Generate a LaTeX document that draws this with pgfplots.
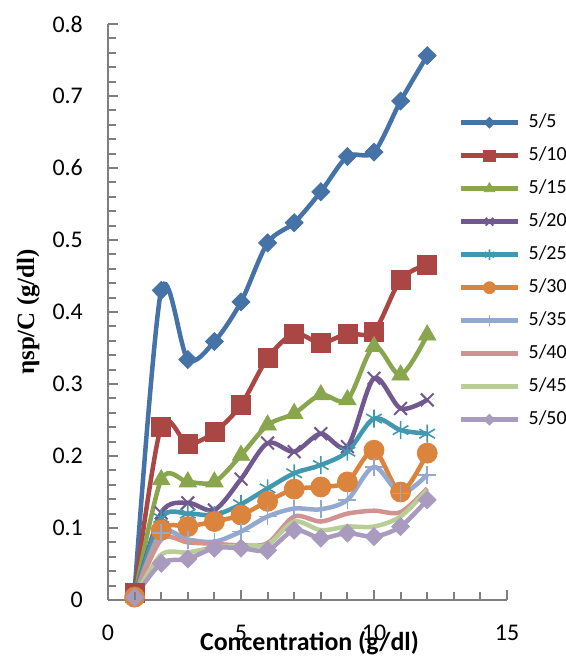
\documentclass[border=0pt]{standalone}
\usepackage{fontspec}
\setmainfont{Carlito}
\newfontfamily\tnr{Liberation Serif}
\usepackage{pgfplots}
\pgfplotsset{compat=1.18}
\definecolor{c1}{HTML}{4572A7}
\definecolor{c2}{HTML}{AA4643}
\definecolor{c3}{HTML}{89A54E}
\definecolor{c4}{HTML}{71588F}
\definecolor{c5}{HTML}{4198AF}
\definecolor{c6}{HTML}{DB843D}
\definecolor{c7}{HTML}{93A9CF}
\definecolor{c8}{HTML}{D19392}
\definecolor{c9}{HTML}{B9CD96}
\definecolor{c10}{HTML}{A99BBD}
\definecolor{axgray}{HTML}{7F7F7F}
\begin{document}
\begin{tikzpicture}
\begin{axis}[
  at={(108bp,67bp)}, anchor=south west,
  scale only axis, width=399bp, height=576bp,
  xmin=0, xmax=15, ymin=0, ymax=0.8,
  axis lines*=left,
  axis line style={draw=axgray, line width=2bp},
  xtick align=inside, ytick align=inside,
  xtick style={draw=axgray, line width=2bp},
  ytick style={draw=axgray, line width=2bp},
  major tick length=10bp, minor tick length=8bp,
  xtick={0,5,10,15}, minor x tick num=4,
  ytick={0,0.1,0.2,0.3,0.4,0.5,0.6,0.7,0.8},
  minor y tick num=4,
  /pgf/number format/assume math mode=true,
  yticklabel style={font=\fontsize{24}{24}\selectfont, inner sep=0pt, xshift=-25bp, /pgf/number format/fixed, /pgf/number format/precision=1},
  xticklabel style={font=\fontsize{24}{24}\selectfont, inner sep=0pt, anchor=north, yshift=-25bp},
  xlabel={Concentration (g/dl)},
  xlabel style={at={(axis description cs:0.505,0)}, anchor=north, inner sep=0pt, yshift=-31bp, font=\fontsize{26}{26}\selectfont\bfseries},
  ylabel={\tnr\bfseries ηsp/C (g/dl)},
  ylabel style={at={(axis description cs:-0.2,0.5)}, anchor=center, rotate=0, inner sep=0pt, font=\fontsize{25}{25}\selectfont},
  legend style={at={(rel axis cs:0.8797,0.8446)}, anchor=north west, draw=none, fill=none,
    font=\fontsize{20}{20}\selectfont, inner sep=0pt, row sep=15bp,
    nodes={inner sep=0pt, text height=14bp, text depth=4bp},
    /tikz/column 1/.style={column sep=9bp}},
  legend cell align=left,
  legend image code/.code={\draw[mark repeat=2,mark phase=2,#1, every mark/.append style={scale=0.6}] plot coordinates {(0bp,0bp) (28bp,0bp) (56bp,0bp)};},
  clip=false,
]
\addplot[c1, smooth, line width=4.5bp, mark=diamond*, mark size=9bp, mark options={solid, line width=0.8bp, xscale=1.33}] coordinates {
(1,0.012) (2,0.43) (3,0.334) (4,0.359) (5,0.414) (6,0.496) (7,0.524) (8,0.567) (9,0.616) (10,0.622) (11,0.693) (12,0.756)};
\addlegendentry{5/5}
\addplot[c2, smooth, line width=4.5bp, mark=square*, mark size=9.5bp, mark options={solid, line width=0.8bp}] coordinates {
(1,0.01) (2,0.241) (3,0.217) (4,0.233) (5,0.271) (6,0.336) (7,0.370) (8,0.357) (9,0.370) (10,0.373) (11,0.445) (12,0.466)};
\addlegendentry{5/10}
\addplot[c3, smooth, line width=4.5bp, mark=triangle*, mark size=10bp, mark options={solid, line width=0.8bp}] coordinates {
(1,0.004) (2,0.167) (3,0.164) (4,0.164) (5,0.201) (6,0.243) (7,0.259) (8,0.285) (9,0.278) (10,0.352) (11,0.3125) (12,0.368)};
\addlegendentry{5/15}
\addplot[c4, smooth, line width=4.5bp, mark=x, mark size=9bp, mark options={solid, line width=2bp}] coordinates {
(1,0.004) (2,0.121) (3,0.135) (4,0.125) (5,0.168) (6,0.218) (7,0.206) (8,0.231) (9,0.213) (10,0.308) (11,0.266) (12,0.278)};
\addlegendentry{5/20}
\addplot[c5, smooth, line width=4.5bp, mark=asterisk, mark size=9bp, mark options={solid, line width=1.6bp}] coordinates {
(1,0.004) (2,0.114) (3,0.12) (4,0.118) (5,0.133) (6,0.155) (7,0.176) (8,0.1875) (9,0.206) (10,0.252) (11,0.236) (12,0.231)};
\addlegendentry{5/25}
\addplot[c6, smooth, line width=4.5bp, mark=*, mark size=10bp, mark options={solid, line width=0.8bp}] coordinates {
(1,0.004) (2,0.097) (3,0.102) (4,0.109) (5,0.118) (6,0.137) (7,0.154) (8,0.157) (9,0.164) (10,0.208) (11,0.150) (12,0.204)};
\addlegendentry{5/30}
\addplot[c7, smooth, line width=4.5bp, mark=+, mark size=9bp, mark options={solid, line width=1.6bp}] coordinates {
(1,0.004) (2,0.093) (3,0.084) (4,0.081) (5,0.095) (6,0.116) (7,0.127) (8,0.126) (9,0.139) (10,0.185) (11,0.148) (12,0.174)};
\addlegendentry{5/35}
\addplot[c8, smooth, line width=4.5bp, no markers] coordinates {
(1,0.004) (2,0.084) (3,0.080) (4,0.078) (5,0.076) (6,0.079) (7,0.116) (8,0.109) (9,0.120) (10,0.124) (11,0.122) (12,0.155)};
\addlegendentry{5/40}
\addplot[c9, smooth, line width=4.5bp, no markers] coordinates {
(1,0.004) (2,0.063) (3,0.066) (4,0.073) (5,0.075) (6,0.077) (7,0.109) (8,0.097) (9,0.102) (10,0.102) (11,0.116) (12,0.153)};
\addlegendentry{5/45}
\addplot[c10, smooth, line width=4.5bp, mark=diamond*, mark size=9bp, mark options={solid, line width=0.8bp, xscale=1.33}] coordinates {
(1,0.004) (2,0.051) (3,0.057) (4,0.072) (5,0.072) (6,0.069) (7,0.097) (8,0.086) (9,0.093) (10,0.088) (11,0.102) (12,0.139)};
\addlegendentry{5/50}
\end{axis}
% tick marks on the axis lines (decoration only)
\foreach \i in {1,2,3,4,6,7,8,9,11,12,13,14}
  \draw[axgray, line width=2bp] (108bp+\i*26.6bp,67bp) -- ++(0bp,8bp);
\foreach \i in {0,5,10,15}
  \draw[axgray, line width=2bp] (108bp+\i*26.6bp,67bp) -- ++(0bp,10bp);
\foreach \j in {1,...,40}
  \draw[axgray, line width=2bp] (108bp,67bp+\j*14.4bp) -- ++(8bp,0bp);
\foreach \j in {5,10,...,40}
  \draw[axgray, line width=2bp] (108bp,67bp+\j*14.4bp) -- ++(10bp,0bp);
\pgfresetboundingbox
\path[use as bounding box] (0,0) rectangle (566bp,667bp);
\end{tikzpicture}
\end{document}
